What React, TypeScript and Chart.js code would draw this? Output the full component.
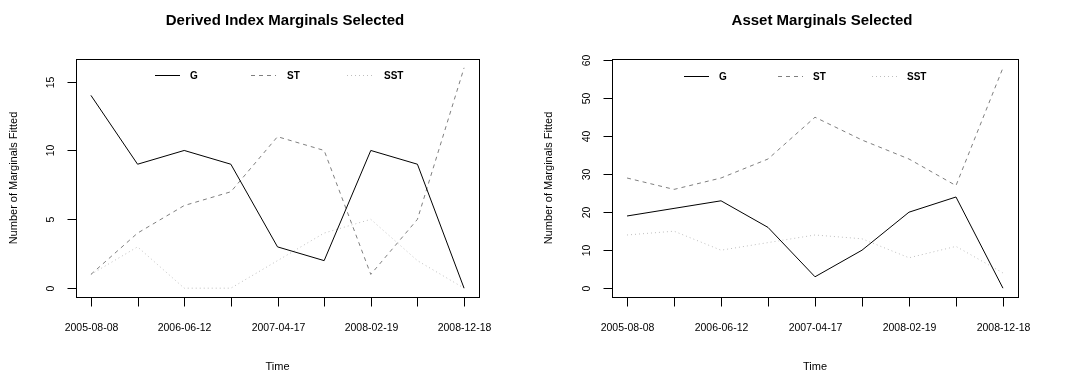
import React, { useEffect, useRef } from 'react';
import { Chart, registerables } from 'chart.js';
Chart.register(...registerables);

// ---- data ----
const timeLabels = ['2005-08-08', '2006-06-12', '2007-04-17', '2008-02-19', '2008-12-18'];
const periodCount = 9; // observation points on the x axis (label on every other one)
const seriesNames = ['G', 'ST', 'SST'];

const derivedG = [14, 9, 10, 9, 3, 2, 10, 9, 0];
const derivedST = [1, 4, 6, 7, 11, 10, 1, 5, 16];
const derivedSST = [1, 3, 0, 0, 2, 4, 5, 2, 0];
const derivedYTicks = [0, 5, 10, 15];

const assetG = [19, 21, 23, 16, 3, 10, 20, 24, 0];
const assetST = [29, 26, 29, 34, 45, 39, 34, 27, 58];
const assetSST = [14, 15, 10, 12, 14, 13, 8, 11, 4];
const assetYTicks = [0, 10, 20, 30, 40, 50, 60];

// ---- styles ----
const lineStyles = [
  { color: '#000000', dash: [] as number[] },
  { color: '#7f7f7f', dash: [4, 4] },
  { color: '#bebebe', dash: [1, 3] },
];
const FONT = "'Liberation Sans', Arial, sans-serif";

type PanelProps = {
  title: string;
  series: number[][];
  yTicks: number[];
  width: number;
  padding: { left: number; right: number; top: number; bottom: number };
  titleX: number;
  legendX: { line: number; text: number }[];
  legendY: number;
};

function Panel(props: PanelProps) {
  const ref = useRef<HTMLCanvasElement | null>(null);
  useEffect(() => {
    const canvas = ref.current;
    if (!canvas) return;
    const all = props.series.flat();
    const dMin = Math.min(...all);
    const dMax = Math.max(...all);
    const yPad = (dMax - dMin) * 0.04;
    const xPad = (periodCount - 1) * 0.04;

    const axesPlugin = {
      id: 'rAxes',
      afterDraw(chart: any) {
        const ctx = chart.ctx;
        const a = chart.chartArea;
        const xs = chart.scales.x;
        const ys = chart.scales.y;
        ctx.save();
        ctx.setLineDash([]);
        ctx.strokeStyle = '#000';
        ctx.lineWidth = 1;
        // box
        ctx.strokeRect(Math.round(a.left) + 0.5, Math.round(a.top) + 0.5, Math.round(a.right - a.left), Math.round(a.bottom - a.top));
        // x ticks
        ctx.fillStyle = '#000';
        ctx.font = `10.5px ${FONT}`;
        ctx.textAlign = 'center';
        ctx.textBaseline = 'middle';
        const bottom = Math.round(a.bottom) + 0.5;
        for (let i = 0; i < periodCount; i++) {
          const px = Math.round(xs.getPixelForValue(i)) + 0.5;
          ctx.beginPath();
          ctx.moveTo(px, bottom);
          ctx.lineTo(px, bottom + 9);
          ctx.stroke();
          if (i % 2 === 0) {
            ctx.fillText(timeLabels[i / 2], px, bottom + 31);
          }
        }
        // y ticks
        const left = Math.round(a.left) + 0.5;
        for (const t of props.yTicks) {
          const py = Math.round(ys.getPixelForValue(t)) + 0.5;
          ctx.beginPath();
          ctx.moveTo(left, py);
          ctx.lineTo(left - 9, py);
          ctx.stroke();
          ctx.save();
          ctx.translate(left - 25, py);
          ctx.rotate(-Math.PI / 2);
          ctx.fillText(String(t), 0, 0);
          ctx.restore();
        }
        // axis titles
        ctx.font = `11px ${FONT}`;
        ctx.fillText('Time', (a.left + a.right) / 2, 367);
        ctx.save();
        ctx.translate(14, (a.top + a.bottom) / 2);
        ctx.rotate(-Math.PI / 2);
        ctx.fillText('Number of Marginals Fitted', 0, 0);
        ctx.restore();
        // main title
        ctx.font = `bold 15px ${FONT}`;
        ctx.fillText(props.title, props.titleX, 21);
        // legend
        ctx.font = `bold 10px ${FONT}`;
        ctx.textAlign = 'left';
        seriesNames.forEach((name, k) => {
          const ls = lineStyles[k];
          const lx = props.legendX[k];
          ctx.strokeStyle = ls.color;
          ctx.setLineDash(ls.dash);
          ctx.beginPath();
          ctx.moveTo(lx.line, props.legendY + 0.5);
          ctx.lineTo(lx.line + 25, props.legendY + 0.5);
          ctx.stroke();
          ctx.fillStyle = '#000';
          ctx.fillText(name, lx.text, props.legendY + 1);
        });
        ctx.restore();
      },
    };

    const chart = new Chart(canvas, {
      type: 'line',
      data: {
        datasets: props.series.map((vals, k) => ({
          label: seriesNames[k],
          data: vals.map((v, i) => ({ x: i, y: v })),
          borderColor: lineStyles[k].color,
          borderDash: lineStyles[k].dash,
          borderWidth: 1,
          pointRadius: 0,
          fill: false,
          tension: 0,
        })),
      },
      options: {
        responsive: false,
        animation: false,
        devicePixelRatio: 1,
        layout: { padding: props.padding },
        plugins: { legend: { display: false }, title: { display: false }, tooltip: { enabled: false } },
        scales: {
          x: { type: 'linear', display: false, min: -xPad, max: periodCount - 1 + xPad },
          y: { type: 'linear', display: false, min: dMin - yPad, max: dMax + yPad },
        },
      },
      plugins: [axesPlugin],
    } as any);
    return () => chart.destroy();
  }, []);
  return <canvas ref={ref} width={props.width} height={389} style={{ display: 'block' }} />;
}

export default function App() {
  return (
    <div style={{ position: 'absolute', left: 0, top: 0, width: 1071, height: 389, display: 'flex', background: '#fff' }}>
      <Panel
        title="Derived Index Marginals Selected"
        series={[derivedG, derivedST, derivedSST]}
        yTicks={derivedYTicks}
        width={535}
        padding={{ left: 76, right: 56, top: 59, bottom: 92 }}
        titleX={285}
        legendX={[{ line: 155, text: 190 }, { line: 251, text: 287 }, { line: 347, text: 384 }]}
        legendY={75}
      />
      <Panel
        title="Asset Marginals Selected"
        series={[assetG, assetST, assetSST]}
        yTicks={assetYTicks}
        width={536}
        padding={{ left: 77, right: 53, top: 59, bottom: 92 }}
        titleX={287}
        legendX={[{ line: 149, text: 184 }, { line: 243, text: 278 }, { line: 337, text: 372 }]}
        legendY={76}
      />
    </div>
  );
}
